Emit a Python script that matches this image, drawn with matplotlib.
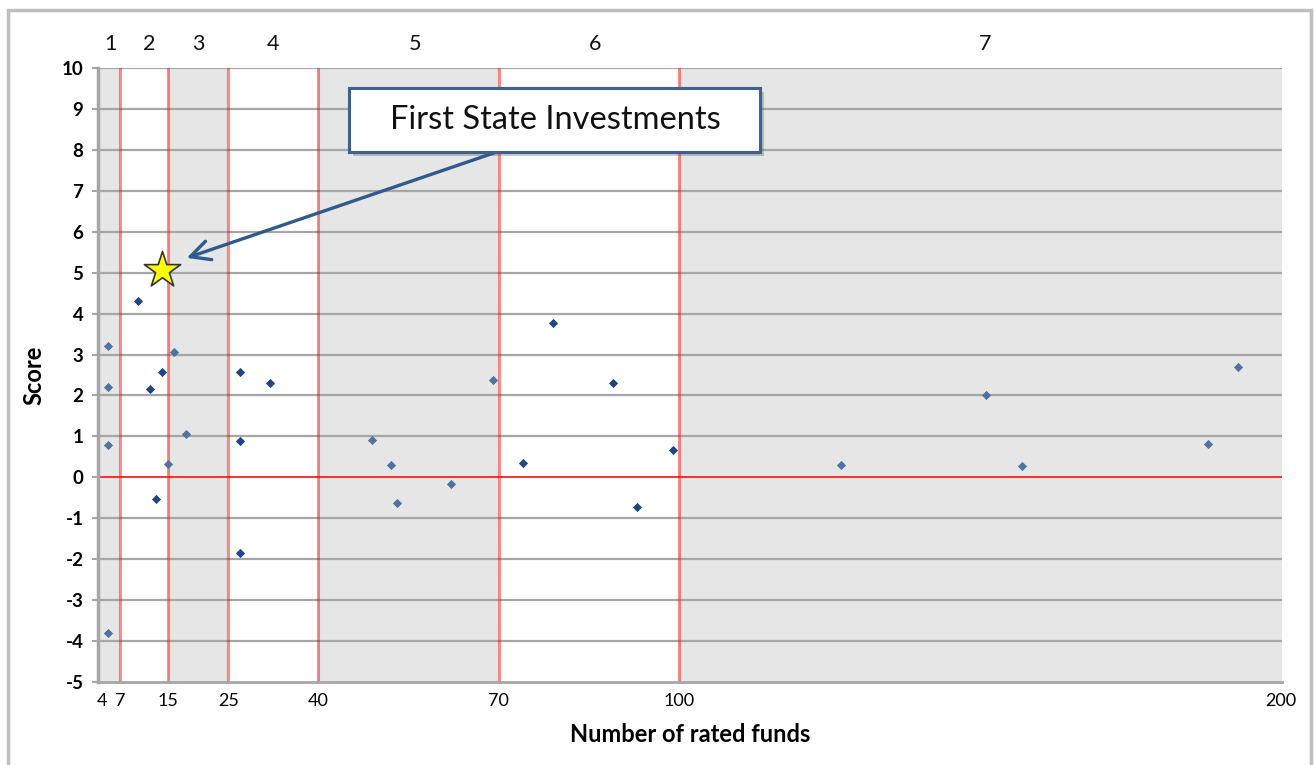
import matplotlib.pyplot as plt
from matplotlib.patches import Rectangle
import matplotlib.patheffects as pe

plt.rcParams['font.family'] = ['Lato', 'DejaVu Sans']
plt.rcParams['axes.unicode_minus'] = False

# Fund managers: number of rated funds vs score
funds_light = [5, 5, 5, 5, 15, 16, 18, 49, 52, 53, 62, 69, 127, 151, 157, 188, 193]
score_light = [3.2, 2.2, 0.8, -3.8, 0.33, 3.05, 1.05, 0.9, 0.3, -0.63, -0.17, 2.39, 0.3, 2.0, 0.28, 0.81, 2.7]
funds_dark = [10, 12, 13, 14, 27, 27, 27, 32, 74, 79, 89, 93, 99]
score_dark = [4.3, 2.15, -0.54, 2.57, 2.58, 0.88, -1.86, 2.31, 0.36, 3.78, 2.3, -0.73, 0.67]
highlight_funds = [14]
highlight_score = [5.07]

bounds = [7, 15, 25, 40, 70, 100]
x_ticks = [4, 7, 15, 25, 40, 70, 100, 200]
band_labels = ['1', '2', '3', '4', '5', '6', '7']
band_label_x = [5.5, 11.8, 20.1, 32.4, 56.1, 86.0, 150.9]
x_min, x_max = 3.35, 200.3

fig = plt.figure(figsize=(13.14, 7.65), dpi=100)
ax = fig.add_axes([0.0746, 0.1085, 0.9011, 0.8026])
fig.patches.append(Rectangle((0.006, -0.01), 0.992, 0.997, transform=fig.transFigure,
                             fill=False, edgecolor='#BFBFBF', lw=2.5, zorder=0))

edges = [x_min] + bounds + [x_max]
for i in range(len(edges) - 1):
    if i % 2 == 0:
        ax.axvspan(edges[i], edges[i + 1], color='#E6E6E6', lw=0, zorder=0)
for lx, lab in zip(band_label_x, band_labels):
    ax.text(lx, 10.35, lab, ha='center', va='bottom', fontsize=15.5, color='#111111')

for y in range(-4, 11):
    if y != 0:
        ax.axhline(y, color='#A6A6A6', lw=1.6, zorder=1)
ax.axhline(0, color='#FF2020', lw=1.3, zorder=2)
for b in bounds:
    ax.axvline(b, color='#FF0000', alpha=0.45, lw=2.2, zorder=2)

ax.scatter(funds_light, score_light, marker='D', s=22, color='#4F73A0', zorder=4, lw=0)
ax.scatter(funds_dark, score_dark, marker='D', s=22, color='#1F4582', zorder=4, lw=0)
ax.scatter(highlight_funds, highlight_score, marker='*', s=750, color='#FFFF00',
           edgecolor='#333333', lw=1.2, zorder=5)

ax.set_xlim(x_min, x_max)
ax.set_ylim(-5, 10)
ax.set_xticks(x_ticks)
ax.set_yticks(range(-5, 11))
ax.tick_params(axis='x', length=0, labelsize=13, pad=8)
ax.tick_params(axis='y', length=4.5, width=1.5, color='#A6A6A6', labelsize=13.5, pad=6)
for lab in ax.get_yticklabels():
    lab.set_fontweight('bold')
for s in ['top', 'right']:
    ax.spines[s].set_visible(False)
ax.spines['left'].set_color('#A6A6A6')
ax.spines['left'].set_linewidth(2.5)
ax.spines['bottom'].set_color('#A6A6A6')
ax.spines['bottom'].set_linewidth(2)

ax.set_xlabel('Number of rated funds', fontsize=17, fontweight='bold', labelpad=10)
ax.set_ylabel('Score', fontsize=17, fontweight='bold', labelpad=12)

# callout box, text and arrow
box = Rectangle((45.1, 7.95), 68.4, 1.56, fc='white', ec='#3D6290', lw=2.2, zorder=6,
                path_effects=[pe.withSimplePatchShadow(offset=(3, -3), alpha=0.3), pe.Normal()])
ax.add_patch(box)
ax.text(79.4, 8.72, 'First State Investments', ha='center', va='center',
        fontsize=23.5, color='#111111', zorder=7)
ax.annotate('', xy=(18.1, 5.36), xytext=(69.7, 7.95), zorder=5,
            arrowprops=dict(arrowstyle='->,head_length=0.7,head_width=0.35', color='#2F5A8C',
                            lw=2.4, shrinkA=0, shrinkB=0, mutation_scale=20))

fig.savefig('out.png', dpi=100)
